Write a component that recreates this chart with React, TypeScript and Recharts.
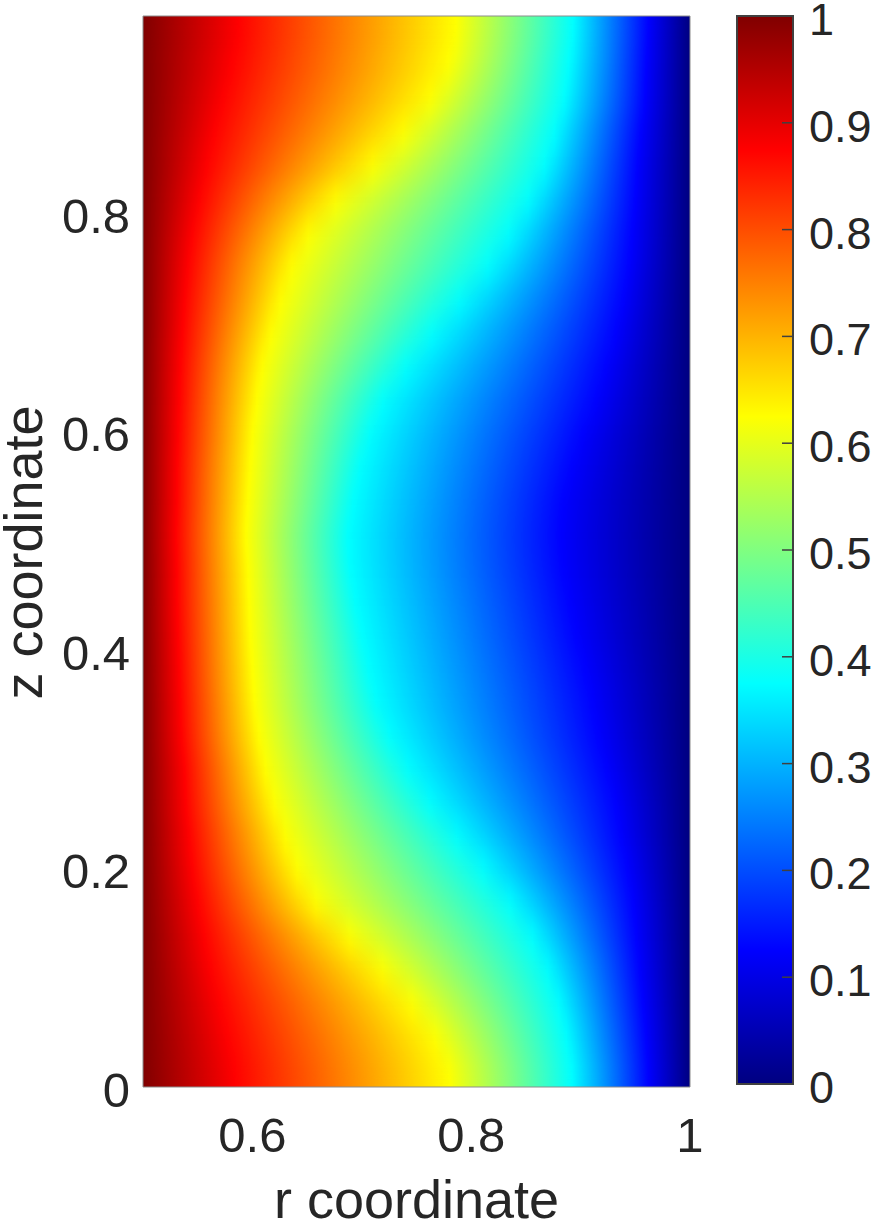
import React from "react";
import { Bar, BarChart, Cell, Label, ReferenceArea, Scatter, ScatterChart, XAxis, YAxis } from "recharts";

// z level of each row, top to bottom
const zRows = [
  0.965, 0.935, 0.904, 0.874, 0.843, 0.812, 0.782, 0.751, 0.72, 0.69, 0.659, 0.628, 0.598, 0.567, 0.536, 0.505,
  0.475, 0.444, 0.414, 0.383, 0.353, 0.322, 0.291, 0.26, 0.23, 0.199, 0.168, 0.138, 0.107, 0.076, 0.046, 0.015,
];

// r position where the field reaches each level, per row
const rAt875 = [
  0.587, 0.581, 0.573, 0.565, 0.558, 0.551, 0.545, 0.541, 0.538, 0.536, 0.534, 0.533, 0.532, 0.531, 0.531, 0.53,
  0.531, 0.531, 0.532, 0.533, 0.534, 0.535, 0.538, 0.539, 0.542, 0.545, 0.55, 0.556, 0.562, 0.57, 0.577, 0.584,
];
const rAt750 = [
  0.686, 0.68, 0.668, 0.652, 0.634, 0.613, 0.598, 0.588, 0.582, 0.576, 0.571, 0.568, 0.566, 0.564, 0.563, 0.562,
  0.563, 0.564, 0.565, 0.566, 0.568, 0.57, 0.575, 0.579, 0.586, 0.593, 0.604, 0.622, 0.64, 0.658, 0.672, 0.682,
];
const rAt625 = [
  0.786, 0.779, 0.763, 0.738, 0.71, 0.676, 0.651, 0.636, 0.626, 0.617, 0.609, 0.604, 0.6, 0.598, 0.596, 0.594,
  0.596, 0.597, 0.598, 0.6, 0.602, 0.606, 0.612, 0.62, 0.63, 0.641, 0.658, 0.689, 0.719, 0.746, 0.767, 0.78,
];
const rAt500 = [
  0.84, 0.834, 0.824, 0.807, 0.788, 0.764, 0.742, 0.725, 0.707, 0.69, 0.674, 0.661, 0.653, 0.648, 0.644, 0.64,
  0.642, 0.645, 0.649, 0.653, 0.657, 0.665, 0.677, 0.691, 0.708, 0.726, 0.747, 0.772, 0.794, 0.813, 0.827, 0.836,
];
const rAt375 = [
  0.893, 0.889, 0.885, 0.876, 0.867, 0.852, 0.834, 0.815, 0.789, 0.764, 0.74, 0.719, 0.707, 0.698, 0.692, 0.687,
  0.689, 0.694, 0.7, 0.706, 0.713, 0.725, 0.742, 0.762, 0.787, 0.811, 0.836, 0.856, 0.87, 0.88, 0.887, 0.892,
];
const rAt250 = [
  0.927, 0.925, 0.922, 0.915, 0.909, 0.901, 0.89, 0.879, 0.864, 0.848, 0.832, 0.816, 0.804, 0.795, 0.788, 0.784,
  0.786, 0.792, 0.798, 0.805, 0.812, 0.82, 0.833, 0.847, 0.862, 0.877, 0.892, 0.903, 0.912, 0.918, 0.923, 0.927,
];
const rAt125 = [
  0.962, 0.96, 0.959, 0.955, 0.952, 0.95, 0.947, 0.944, 0.939, 0.932, 0.923, 0.914, 0.902, 0.892, 0.884, 0.881,
  0.884, 0.89, 0.896, 0.904, 0.911, 0.916, 0.924, 0.932, 0.937, 0.943, 0.948, 0.951, 0.954, 0.957, 0.96, 0.962,
];

const rTicks = [0.6, 0.8, 1];
const zTicks = [0, 0.2, 0.4, 0.6, 0.8];
const barTicks = [0, 0.1, 0.2, 0.3, 0.4, 0.5, 0.6, 0.7, 0.8, 0.9, 1];

// jet colormap breakpoints, high to low (same order as the r arrays, left to right)
const jetColors = ["#800000", "#ff0000", "#ff8000", "#ffff00", "#80ff80", "#00ffff", "#0080ff", "#0000ff", "#000080"];
const jetLevels = [1, 0.875, 0.75, 0.625, 0.5, 0.375, 0.25, 0.125, 0];

const rows = zRows.map((z, i) => ({
  z,
  span: [0.5, 1],
  edges: [0.5, rAt875[i], rAt750[i], rAt625[i], rAt500[i], rAt375[i], rAt250[i], rAt125[i], 1],
}));

const colorbarData = [{ name: "c", span: [0, 1] }];

const TEXT = "#262626";
const FONT = "'Liberation Sans', Arial, sans-serif";

const TickText = ({ x, y, payload, dx = 0, dy = 0, anchor = "middle", size = 49 }: any) => (
  <text x={x + dx} y={y + dy} textAnchor={anchor} fontSize={size} fontFamily={FONT} fill={TEXT}>
    {String(payload.value)}
  </text>
);

const XTitle = ({ viewBox }: any) => (
  <text
    x={viewBox.x + viewBox.width / 2}
    y={viewBox.y + 131}
    textAnchor="middle"
    fontSize={54}
    fontFamily={FONT}
    fill={TEXT}
  >
    r coordinate
  </text>
);

const YTitle = ({ viewBox }: any) => {
  const cx = viewBox.x + 42;
  const cy = viewBox.y + viewBox.height / 2 + 1;
  return (
    <text x={cx} y={cy} textAnchor="middle" fontSize={54} fontFamily={FONT} fill={TEXT} transform={`rotate(-90 ${cx} ${cy})`}>
      z coordinate
    </text>
  );
};

const App = () => {
  return (
    <div style={{ position: "absolute", left: 0, top: 0, width: 874, height: 1222, background: "#fff" }}>
      <svg width={0} height={0} style={{ position: "absolute" }}>
        <filter id="rowBlend" x="0" y="0" width="100%" height="100%" colorInterpolationFilters="sRGB">
          <feGaussianBlur stdDeviation="0 15" />
          <feComponentTransfer>
            <feFuncA type="linear" slope="1000" />
          </feComponentTransfer>
        </filter>
      </svg>

      {/* field: one bar per z row, blended vertically */}
      <div
        style={{
          position: "absolute",
          left: 0,
          top: 0,
          filter: "url(#rowBlend)",
          clipPath: "inset(16px 184px 135px 143px)",
        }}
      >
        <BarChart
          width={874}
          height={1222}
          data={rows}
          layout="vertical"
          barSize={34}
          barCategoryGap={0}
          margin={{ top: 16, right: 184, bottom: 135, left: 143 }}
        >
          <defs>
            {rows.map((row, i) => (
              <linearGradient key={i} id={`row${i}`} x1="0" y1="0" x2="1" y2="0">
                {row.edges.map((r, k) => (
                  <stop key={k} offset={(r - 0.5) / 0.5} stopColor={jetColors[k]} />
                ))}
              </linearGradient>
            ))}
          </defs>
          <XAxis type="number" domain={[0.5, 1]} allowDataOverflow hide />
          <YAxis type="category" dataKey="z" hide />
          <Bar dataKey="span" isAnimationActive={false}>
            {rows.map((row, i) => (
              <Cell key={row.z} fill={`url(#row${i})`} />
            ))}
          </Bar>
        </BarChart>
      </div>

      {/* axes and box of the field */}
      <div style={{ position: "absolute", left: 0, top: 0 }}>
        <ScatterChart width={874} height={1222} margin={{ top: 16, right: 184, bottom: 0, left: 0 }}>
          <XAxis
            type="number"
            dataKey="r"
            domain={[0.5, 1]}
            ticks={rTicks}
            allowDataOverflow
            height={135}
            axisLine={false}
            tickLine={false}
            tickSize={0}
            tick={<TickText dy={63} />}
          >
            <Label content={<XTitle />} />
          </XAxis>
          <YAxis
            type="number"
            dataKey="z"
            domain={[0, 0.98]}
            ticks={zTicks}
            allowDataOverflow
            width={143}
            axisLine={false}
            tickLine={false}
            tickSize={0}
            tick={<TickText dx={-11} dy={20} anchor="end" />}
          >
            <Label content={<YTitle />} />
          </YAxis>
          <Scatter data={[]} isAnimationActive={false} />
          <ReferenceArea x1={0.5} x2={1} y1={0} y2={0.98} fill="none" stroke="#8c8c8c" strokeWidth={1} />
        </ScatterChart>
      </div>

      {/* colorbar */}
      <div style={{ position: "absolute", left: 0, top: 0 }}>
        <BarChart
          width={874}
          height={1222}
          data={colorbarData}
          barCategoryGap={0}
          margin={{ top: 16, right: 0, bottom: 138, left: 737 }}
        >
          <defs>
            <linearGradient id="jetBar" x1="0" y1="0" x2="0" y2="1">
              {jetLevels.map((l, i) => (
                <stop key={l} offset={1 - l} stopColor={jetColors[i]} />
              ))}
            </linearGradient>
          </defs>
          <XAxis dataKey="name" hide />
          <YAxis
            type="number"
            orientation="right"
            domain={[0, 1]}
            ticks={barTicks}
            width={81}
            axisLine={false}
            tick={<TickText dx={27} dy={19} anchor="start" size={45} />}
            tickLine={{ stroke: "#404040", strokeWidth: 1.5 }}
            tickSize={-11}
            tickMargin={0}
          />
          <Bar dataKey="span" fill="url(#jetBar)" stroke="#404040" strokeWidth={2} isAnimationActive={false} />
        </BarChart>
      </div>
    </div>
  );
};

export default App;
